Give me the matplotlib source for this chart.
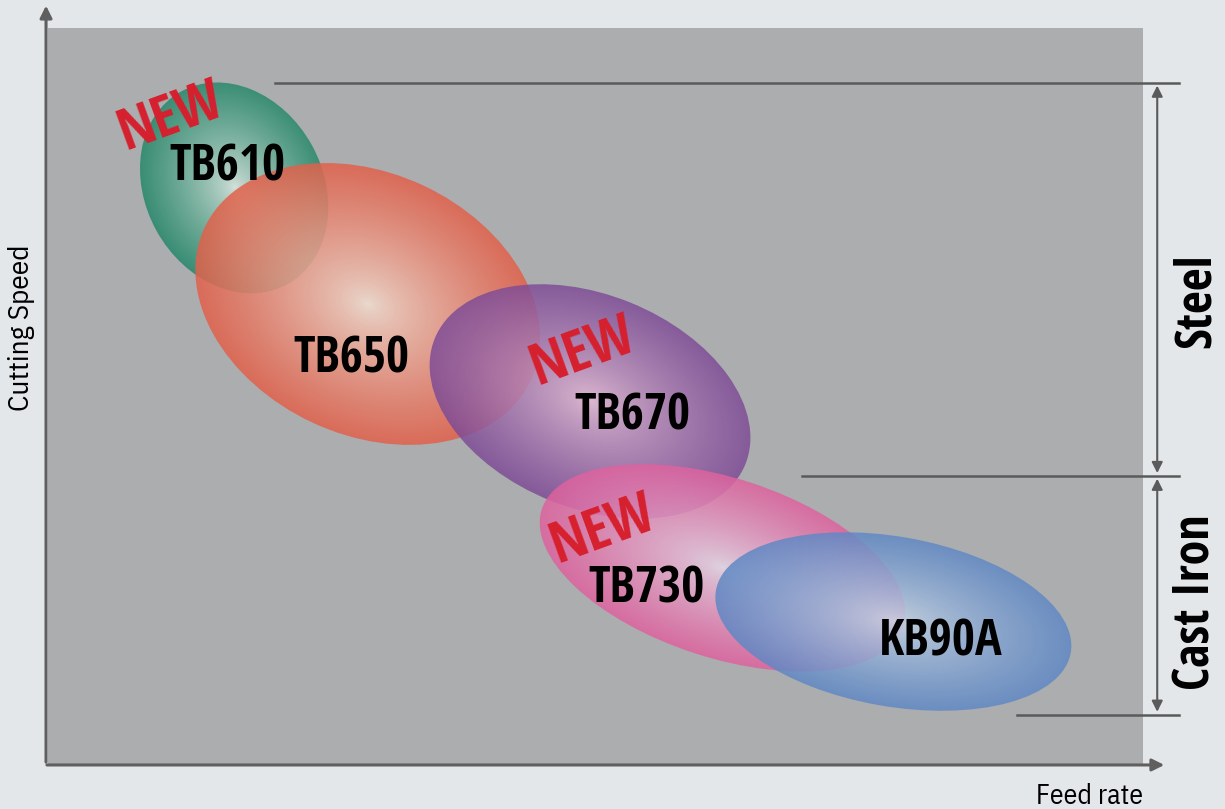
import numpy as np
import matplotlib
matplotlib.use("Agg")
import matplotlib.pyplot as plt
from matplotlib.patches import Ellipse, FancyArrowPatch

# grade regions (feed rate 0-100, cutting speed 0-67.3, same scale both ways)
grades = ["TB610", "TB650", "TB670", "TB730", "KB90A"]
feed_center = [17.0, 29.2, 49.5, 61.6, 77.2]
speed_center = [52.7, 42.1, 33.2, 18.0, 13.1]
region_width = [16.2, 32.9, 30.6, 34.7, 32.9]
region_height = [20.1, 23.9, 19.5, 16.4, 15.5]
region_angle = [29, -25, -22, -18, -10]
is_new = [True, False, True, True, False]

# label positions (baseline of grade names, centre of the NEW tags)
label_x = [16.4, 27.7, 53.4, 54.7, 81.5]
label_y = [53.4, 35.8, 30.6, 14.8, 10.0]
new_x = [11.2, None, 48.8, 50.7, None]
new_y = [59.1, None, 37.7, 21.4, None]

# workpiece ranges on the right (speed limits)
materials = ["Steel", "Cast Iron"]
material_top = [62.3, 26.4]
material_bottom = [26.4, 4.6]
material_label_y = [42.4, 14.9]
line_start = [20.7, 68.9, 88.5]   # where the horizontal limit lines begin
line_level = [62.3, 26.4, 4.6]

edge_colors = [(38, 136, 106), (226, 96, 74), (126, 76, 150), (222, 98, 158), (96, 136, 196)]
center_colors = [(222, 236, 228), (246, 228, 214), (232, 190, 216), (232, 220, 234), (206, 220, 232)]

font = ["Open Sans Condensed", "DejaVu Sans"]
thin = ["IBM Plex Sans Condensed", "DejaVu Sans"]

fig = plt.figure(figsize=(12.25, 8.09), dpi=100, facecolor="#e3e7ea")
ax = fig.add_axes([48 / 1225, 44 / 809, 1095 / 1225, 737 / 809])
ax.set_facecolor("#abadaf")
ax.set_xlim(0, 100)
ax.set_ylim(0, 67.3)
for sp in ax.spines.values():
    sp.set_visible(False)
ax.set_xticks([])
ax.set_yticks([])

for i in range(len(grades)):
    cx, cy = feed_center[i], speed_center[i]
    w, h, ang = region_width[i], region_height[i], region_angle[i]
    r_box = max(w, h) / 2 + 0.5
    xs = np.linspace(cx - r_box, cx + r_box, 400)
    ys = np.linspace(cy - r_box, cy + r_box, 400)
    X, Y = np.meshgrid(xs, ys)
    t = np.deg2rad(ang)
    u = (X - cx) * np.cos(t) + (Y - cy) * np.sin(t)
    v = -(X - cx) * np.sin(t) + (Y - cy) * np.cos(t)
    r = np.sqrt((u / (w / 2)) ** 2 + (v / (h / 2)) ** 2)
    k = np.clip(r, 0, 1) ** 0.75
    c0 = np.array(center_colors[i]) / 255
    c1 = np.array(edge_colors[i]) / 255
    img = np.zeros(X.shape + (4,))
    for ch in range(3):
        img[..., ch] = c0[ch] + (c1[ch] - c0[ch]) * k
    img[..., 3] = 0.85
    im = ax.imshow(img, extent=(xs[0], xs[-1], ys[0], ys[-1]), origin="lower",
                   interpolation="bilinear", zorder=2 + i)
    clip = Ellipse((cx, cy), w, h, angle=ang, transform=ax.transData)
    im.set_clip_path(clip)

for i in range(len(grades)):
    ax.text(label_x[i], label_y[i], grades[i], fontsize=36, fontweight="bold",
            family=font, ha="center", va="baseline", color="black", zorder=20)
    if is_new[i]:
        ax.text(new_x[i], new_y[i], "NEW", fontsize=42, fontweight="bold",
                family=font, ha="center", va="center", color="#d6202e",
                rotation=20, zorder=20)

# axes arrows
ax.annotate("", xy=(-0.18, 69.6), xytext=(-0.18, 0), annotation_clip=False,
            arrowprops=dict(arrowstyle="-|>", color="#5f5f5f", lw=2.2, mutation_scale=18))
ax.annotate("", xy=(102.2, 0), xytext=(-0.35, 0), annotation_clip=False,
            arrowprops=dict(arrowstyle="-|>", color="#5f5f5f", lw=2.2, mutation_scale=18))
ax.text(-2.4, 39.9, "Cutting Speed", rotation=90, fontsize=21,
        family=thin, ha="center", va="center", clip_on=False)
ax.text(95.1, -2.9, "Feed rate", fontsize=20, family=thin,
        ha="center", va="center", clip_on=False)

# material ranges
for xs0, lv in zip(line_start, line_level):
    ax.plot([xs0, 103.3], [lv, lv], color="#5a5a5a", lw=1.8, clip_on=False, zorder=15)
for j in range(len(materials)):
    arr = FancyArrowPatch((101.3, material_bottom[j]), (101.3, material_top[j]),
                          arrowstyle="<|-|>", mutation_scale=16, color="#5a5a5a",
                          lw=1.5, clip_on=False, zorder=15)
    ax.add_patch(arr)
    ax.text(104.9, material_label_y[j], materials[j],
            rotation=90, fontsize=36, fontweight="bold", family=font,
            ha="center", va="center", clip_on=False)

fig.savefig("out.png", dpi=100, facecolor=fig.get_facecolor())
